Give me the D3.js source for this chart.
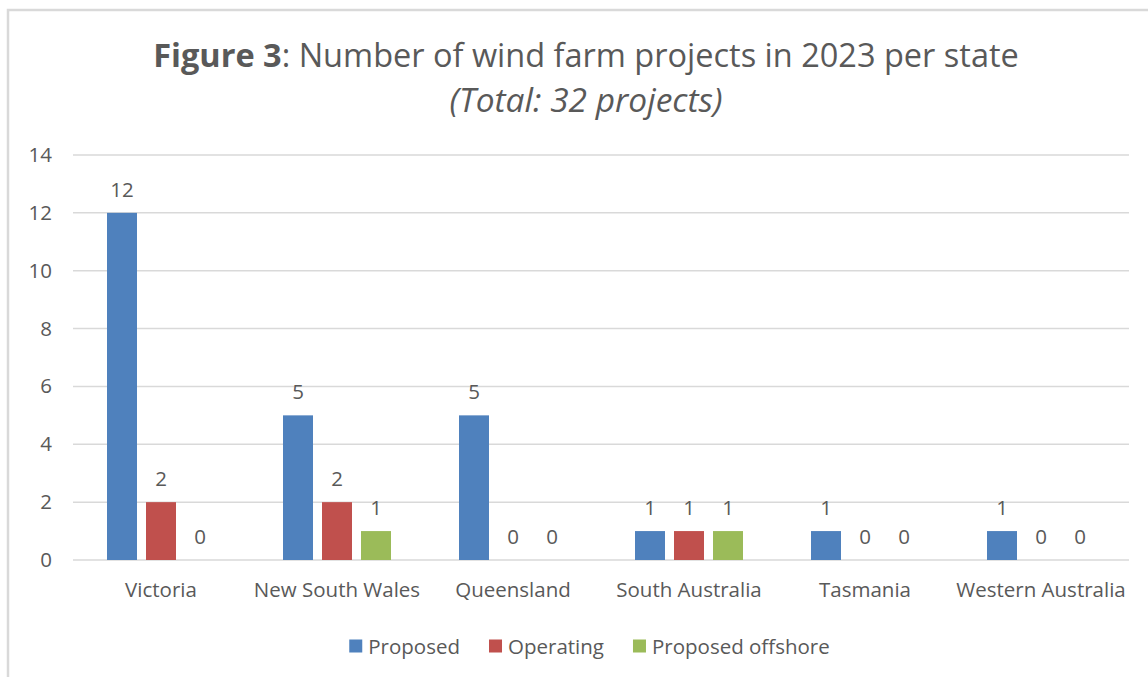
<!DOCTYPE html>
<html>
<head>
<meta charset="utf-8">
<script src="https://cdn.jsdelivr.net/npm/d3@7"></script>
<style>
  body { margin: 0; background: #fff; }
  text { font-family: "Open Sans", sans-serif; fill: #595959; }
</style>
</head>
<body>
<div id="chart"></div>
<script>
// data
var states = ["Victoria", "New South Wales", "Queensland", "South Australia", "Tasmania", "Western Australia"];
var seriesNames = ["Proposed", "Operating", "Proposed offshore"];
var proposed = [12, 5, 5, 1, 1, 1];
var operating = [2, 2, 0, 1, 0, 0];
var offshore = [0, 1, 0, 1, 0, 0];
var yTicks = [0, 2, 4, 6, 8, 10, 12, 14];
var colors = ["#4F81BD", "#C0504D", "#9BBB59"];

var width = 1148, height = 677;
var margin = {top: 155, left: 73, right: 19, bottom: 117};
var fontSize = "20.5px";

var svg = d3.select("#chart").append("svg")
    .attr("width", width)
    .attr("height", height);

// frame (only top and left edge visible)
svg.append("path")
    .attr("d", "M8,677 L8,10 L1148,10")
    .attr("fill", "none")
    .attr("stroke", "#d9d9d9")
    .attr("stroke-width", 2.5);

// title
var title = svg.append("text")
    .attr("x", 586)
    .attr("y", 67)
    .attr("text-anchor", "middle")
    .style("font-size", "32.5px");
title.append("tspan").style("font-weight", "bold").text("Figure 3");
title.append("tspan").text(": Number of wind farm projects in 2023 per state");

svg.append("text")
    .attr("x", 586)
    .attr("y", 112)
    .attr("text-anchor", "middle")
    .style("font-size", "33.5px")
    .style("font-style", "italic")
    .text("(Total: 32 projects)");

// scales
var x0 = d3.scaleBand()
    .domain(states)
    .range([margin.left, width - margin.right]);

var x1 = d3.scaleBand()
    .domain(seriesNames)
    .range([0, 108])
    .paddingInner(9 / 39);

var y = d3.scaleLinear()
    .domain([0, 14])
    .range([height - margin.bottom, margin.top]);

// gridlines
svg.append("g")
  .selectAll("line")
  .data(yTicks)
  .join("line")
    .attr("x1", margin.left)
    .attr("x2", width - margin.right)
    .attr("y1", d => y(d))
    .attr("y2", d => y(d))
    .attr("stroke", "#d9d9d9")
    .attr("stroke-width", 1.5);

// y axis labels
var yAxis = svg.append("g")
    .attr("transform", "translate(" + (margin.left - 6) + ",0)")
    .call(d3.axisLeft(y).tickValues(yTicks).tickSize(0).tickPadding(15));
yAxis.select(".domain").remove();
yAxis.selectAll("text")
    .style("font-size", fontSize)
    .attr("fill", "#595959");

// x axis labels
var xAxis = svg.append("g")
    .attr("transform", "translate(0," + (height - margin.bottom) + ")")
    .call(d3.axisBottom(x0).tickSize(0).tickPadding(22));
xAxis.select(".domain").remove();
xAxis.selectAll("text")
    .style("font-size", fontSize)
    .attr("fill", "#595959");

// bars
var seriesValues = [proposed, operating, offshore];
var rows = [];
states.forEach(function(s, i) {
  seriesNames.forEach(function(name, j) {
    rows.push({state: s, series: name, value: seriesValues[j][i], color: colors[j]});
  });
});

var barX = function(d) {
  return x0(d.state) + x0.bandwidth() / 2 - 54 + x1(d.series);
};

svg.append("g")
  .selectAll("rect")
  .data(rows)
  .join("rect")
    .attr("x", barX)
    .attr("y", d => y(d.value))
    .attr("width", x1.bandwidth())
    .attr("height", d => y(0) - y(d.value))
    .attr("fill", d => d.color);

// value labels
svg.append("g")
  .selectAll("text")
  .data(rows)
  .join("text")
    .attr("x", d => barX(d) + x1.bandwidth() / 2)
    .attr("y", d => y(d.value) - 16)
    .attr("text-anchor", "middle")
    .style("font-size", fontSize)
    .text(d => d.value);

// legend
var legend = svg.append("g");
var lx = 0;
seriesNames.forEach(function(name, j) {
  var g = legend.append("g").attr("transform", "translate(" + lx + ",0)");
  g.append("rect")
      .attr("x", 0)
      .attr("y", -6.5)
      .attr("width", 13)
      .attr("height", 13)
      .attr("fill", colors[j]);
  var t = g.append("text")
      .attr("x", 19)
      .attr("y", 7.5)
      .style("font-size", fontSize)
      .text(name);
  lx += 19 + t.node().getComputedTextLength() + 29;
});
lx -= 29;
legend.attr("transform", "translate(" + (589.5 - lx / 2) + ",646)");
</script>
</body>
</html>
